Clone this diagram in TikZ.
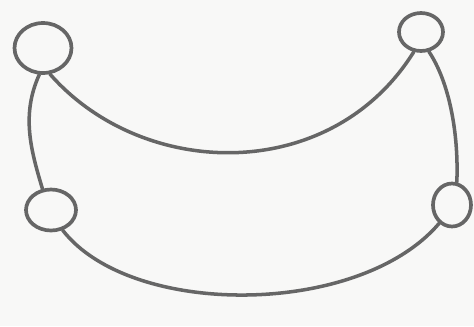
\documentclass[tikz,border=0pt]{standalone}
\usepackage{tikz}
\usetikzlibrary{shapes.geometric}
\definecolor{skInk}{HTML}{666666}
\definecolor{skPaper}{HTML}{F8F8F7}

\begin{document}
\begin{tikzpicture}[x=0.02cm,y=-0.02cm,
  dot/.style={draw=skInk,ellipse,line width=2.1pt,inner sep=0pt},
  ln/.style={draw=skInk,line width=2pt,line cap=round}]
  \fill[skPaper] (0,0) rectangle (474,326);
  \useasboundingbox (0,0) rectangle (474,326);
  \node[dot,minimum width=1.14cm,minimum height=1.0cm]  (tl) at (43,48)  {};
  \node[dot,minimum width=0.88cm,minimum height=0.76cm] (tr) at (421,32) {};
  \node[dot,minimum width=1.0cm,minimum height=0.82cm]  (ml) at (51,210) {};
  \node[dot,minimum width=0.76cm,minimum height=0.86cm] (mr) at (452,205){};
  % upper arc
  \draw[ln] (tl.285) .. controls +(93,106) and +(-83,133) .. (tr.250);
  % sides
  \draw[ln] (tl.262) .. controls +(-18,40) and +(-12,-40) .. (ml.112);
  \draw[ln] (tr.292) .. controls +(20,30) and +(2,-50) .. (mr.78);
  % lower arc
  \draw[ln] (ml.300) .. controls +(68,88) and +(-80,94) .. (mr.235);
\end{tikzpicture}
\end{document}
